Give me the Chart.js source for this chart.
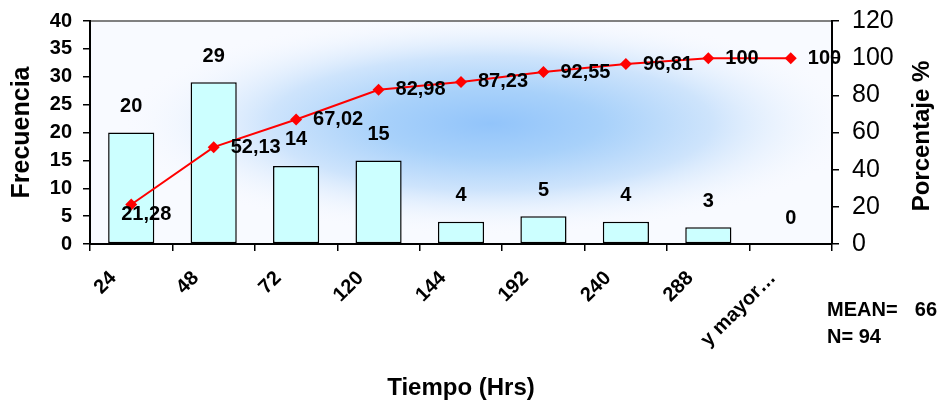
<!DOCTYPE html>
<html>
<head>
<meta charset="utf-8">
<script src="https://cdn.jsdelivr.net/npm/chart.js@4"></script>
<style>
  html, body { margin: 0; padding: 0; background: #ffffff; }
  #wrap { width: 942px; height: 403px; }
</style>
</head>
<body>
<div id="wrap"><canvas id="pareto" width="942" height="403"></canvas></div>
<script>
// Frequency of durations per time bin and cumulative percentage
const categories = ['24', '48', '72', '120', '144', '192', '240', '288', 'y mayor\u2026'];
const frequency = [20, 29, 14, 15, 4, 5, 4, 3, 0];
const cumulativePct = [21.28, 52.13, 67.02, 82.98, 87.23, 92.55, 96.81, 100, 100];
const freqTicks = { min: 0, max: 40, step: 5 };
const pctTicks = { min: 0, max: 120, step: 20 };
const summaryMean = 66;
const summaryN = 94;

const FONT = '"Liberation Sans", Arial, Helvetica, sans-serif';

function fmtPct(v) {
  return Number.isInteger(v) ? String(v) : v.toFixed(2).replace('.', ',');
}

const decor = {
  id: 'decor',
  beforeDraw(chart) {
    const { ctx, chartArea: a } = chart;
    ctx.save();
    ctx.fillStyle = '#ffffff';
    ctx.fillRect(0, 0, chart.width, chart.height);
    // soft blue glow in the plot area
    ctx.beginPath();
    ctx.rect(a.left, a.top, a.right - a.left, a.bottom - a.top);
    ctx.clip();
    ctx.fillStyle = 'rgb(248,250,255)';
    ctx.fillRect(a.left, a.top, a.right - a.left, a.bottom - a.top);
    const cx = a.left + (a.right - a.left) * 0.54;
    const cy = a.top + (a.bottom - a.top) * 0.46;
    const rx = 370, ry = 112;
    ctx.translate(cx, cy);
    ctx.scale(rx / ry, 1);
    const g = ctx.createRadialGradient(0, 0, 0, 0, 0, ry);
    g.addColorStop(0, 'rgb(146,196,250)');
    g.addColorStop(0.3, 'rgb(168,209,250)');
    g.addColorStop(0.6, 'rgb(206,228,252)');
    g.addColorStop(1, 'rgba(248,250,255,0)');
    ctx.fillStyle = g;
    ctx.fillRect(-ry * 2, -ry * 2, ry * 4, ry * 4);
    ctx.restore();
    // grey top edge of the plot area
    ctx.save();
    ctx.strokeStyle = '#808080';
    ctx.lineWidth = 2;
    ctx.beginPath();
    ctx.moveTo(a.left, a.top);
    ctx.lineTo(a.right, a.top);
    ctx.stroke();
    ctx.restore();
  },
  afterDatasetsDraw(chart) {
    const { ctx } = chart;
    ctx.save();
    ctx.fillStyle = '#000000';
    // bar value labels
    ctx.font = 'bold 20px ' + FONT;
    ctx.textAlign = 'center';
    ctx.textBaseline = 'middle';
    chart.getDatasetMeta(0).data.forEach((bar, i) => {
      ctx.fillText(String(frequency[i]), bar.x, bar.y - 26);
    });
    // cumulative percentage labels
    ctx.textAlign = 'left';
    chart.getDatasetMeta(1).data.forEach((pt, i) => {
      const dx = i === 0 ? -10 : 17;
      const dy = i === 0 ? 10 : 0;
      ctx.fillText(fmtPct(cumulativePct[i]), pt.x + dx, pt.y + dy);
    });
    ctx.restore();
  },
  afterDraw(chart) {
    const { ctx, chartArea: a } = chart;
    const xs = chart.scales.x;
    ctx.save();
    ctx.fillStyle = '#000000';
    // rotated category labels
    ctx.font = 'bold 20px ' + FONT;
    ctx.textAlign = 'right';
    ctx.textBaseline = 'middle';
    categories.forEach((c, i) => {
      const x = xs.getPixelForValue(i) - 18;
      const y = a.bottom + 31;
      ctx.save();
      ctx.translate(x, y);
      ctx.rotate(-Math.PI / 4);
      ctx.fillText(c, 0, 0);
      ctx.restore();
    });
    // right axis title
    ctx.font = 'bold 24px ' + FONT;
    ctx.textAlign = 'center';
    ctx.save();
    ctx.translate(922, 136);
    ctx.rotate(-Math.PI / 2);
    ctx.fillText('Porcentaje %', 0, 0);
    ctx.restore();
    // summary statistics
    ctx.font = 'bold 20px ' + FONT;
    ctx.textAlign = 'left';
    ctx.fillText('MEAN=', 827, 310);
    ctx.fillText('N= ' + summaryN, 827, 337);
    ctx.textAlign = 'right';
    ctx.fillText(String(summaryMean), 937, 310);
    ctx.restore();
  }
};

function fixVertical(width) {
  return function (s) {
    s.width = width;
    s.paddingTop = 0;
    s.paddingBottom = 0;
  };
}

new Chart(document.getElementById('pareto'), {
  data: {
    labels: categories,
    datasets: [
      {
        type: 'bar',
        data: frequency,
        yAxisID: 'y',
        backgroundColor: '#CCFFFF',
        borderColor: '#000000',
        borderWidth: 1.5,
        borderSkipped: false,
        categoryPercentage: 1,
        barPercentage: 0.56,
        order: 2
      },
      {
        type: 'line',
        data: cumulativePct,
        yAxisID: 'y1',
        borderColor: '#FF0000',
        backgroundColor: '#FF0000',
        borderWidth: 2,
        pointStyle: 'rectRot',
        pointRadius: 6,
        pointBorderWidth: 0,
        tension: 0,
        fill: false,
        order: 1
      }
    ]
  },
  options: {
    responsive: false,
    animation: false,
    layout: { padding: { top: 21, left: 0, right: 0, bottom: 0 } },
    plugins: { legend: { display: false }, tooltip: { enabled: false } },
    scales: {
      x: {
        type: 'category',
        offset: true,
        grid: { display: true, drawOnChartArea: false, offset: true, tickLength: 7, color: '#000000', lineWidth: 1.5 },
        border: { display: true, color: '#000000', width: 2 },
        ticks: { display: false },
        title: {
          display: true,
          text: 'Tiempo (Hrs)',
          color: '#000000',
          font: { family: FONT, size: 24, weight: 'bold' },
          padding: { top: 1, bottom: 0 }
        },
        afterFit(s) { s.height = 159; s.paddingLeft = 0; s.paddingRight = 0; }
      },
      y: {
        position: 'left',
        min: freqTicks.min,
        max: freqTicks.max,
        ticks: {
          stepSize: freqTicks.step,
          color: '#000000',
          padding: 11,
          font: { family: FONT, size: 20, weight: 'bold' }
        },
        grid: { drawOnChartArea: false, tickLength: 7, color: '#000000', lineWidth: 1.5 },
        border: { display: true, color: '#000000', width: 2 },
        title: {
          display: true,
          text: 'Frecuencia',
          color: '#000000',
          font: { family: FONT, size: 25, weight: 'bold' },
          padding: { top: 7, bottom: 0 }
        },
        afterFit: fixVertical(90)
      },
      y1: {
        position: 'right',
        min: pctTicks.min,
        max: pctTicks.max,
        ticks: {
          stepSize: pctTicks.step,
          color: '#000000',
          padding: 13,
          font: { family: FONT, size: 25 }
        },
        grid: { drawOnChartArea: false, tickLength: 7, color: '#000000', lineWidth: 1.5 },
        border: { display: true, color: '#000000', width: 2 },
        afterFit: fixVertical(110)
      }
    }
  },
  plugins: [decor]
});
</script>
</body>
</html>
